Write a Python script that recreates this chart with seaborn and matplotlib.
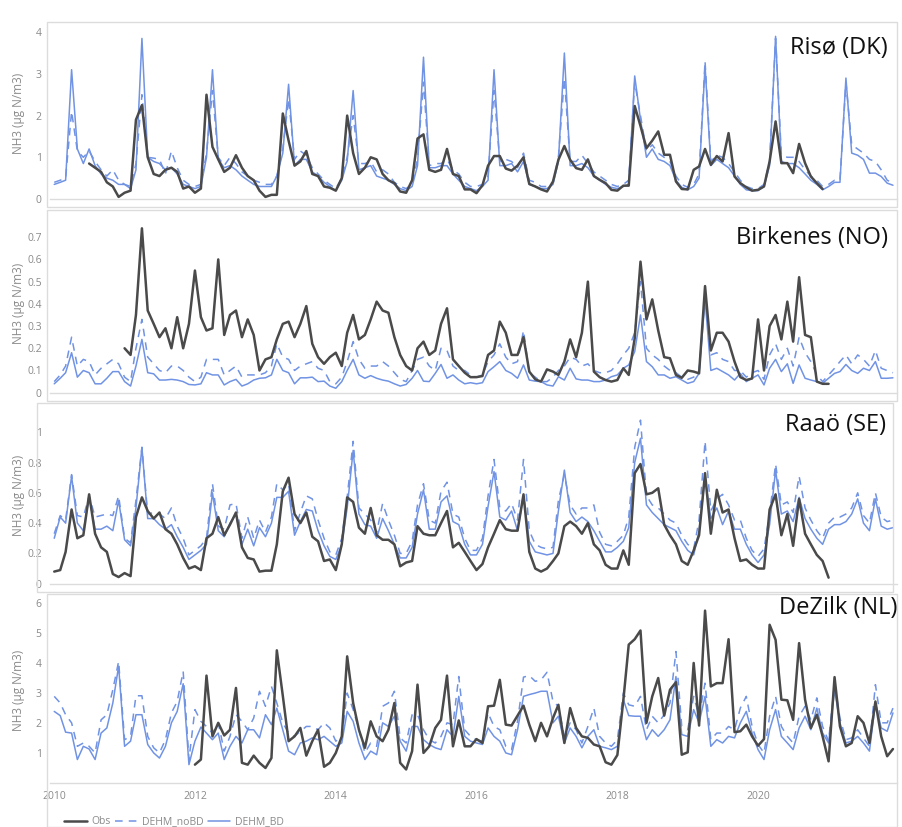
import numpy as np
import pandas as pd
import seaborn as sns
import matplotlib.pyplot as plt
import matplotlib.dates as mdates
from matplotlib.lines import Line2D
from matplotlib.patches import Rectangle

sns.set_theme(style="white")
plt.rcParams['font.family'] = ['Open Sans', 'DejaVu Sans']

nan = np.nan
months = pd.date_range("2010-01-01", periods=144, freq="MS")

# ---------------- Risø (DK) ----------------
riso_obs = [
    nan, nan, nan, nan, nan, nan, 0.85, 0.75, 0.65, 0.4, 0.3, 0.05,
    0.15, 0.2, 1.9, 2.25, 1.0, 0.6, 0.55, 0.7, 0.75, 0.65, 0.25, 0.3,
    0.15, 0.25, 2.5, 1.25, 0.95, 0.65, 0.75, 1.05, 0.75, 0.55, 0.45, 0.2,
    0.05, 0.1, 0.1, 2.05, 1.4, 0.8, 0.9, 1.15, 0.6, 0.55, 0.3, 0.27,
    0.2, 0.5, 2.0, 1.1, 0.6, 0.75, 1.0, 0.95, 0.6, 0.45, 0.38, 0.18,
    0.15, 0.45, 1.45, 1.55, 0.7, 0.65, 0.7, 1.2, 0.6, 0.55, 0.23, 0.23,
    0.14, 0.33, 0.8, 1.03, 1.03, 0.73, 0.68, 0.8, 1.0, 0.36, 0.3, 0.23,
    0.18, 0.42, 0.94, 1.27, 0.94, 0.74, 0.7, 0.95, 0.55, 0.46, 0.38, 0.22,
    0.2, 0.32, 0.32, 2.23, 1.75, 1.22, 1.4, 1.62, 1.06, 1.06, 0.42, 0.24,
    0.23, 0.7, 0.78, 1.2, 0.82, 1.03, 0.9, 1.58, 0.54, 0.38, 0.28, 0.2,
    0.22, 0.3, 0.9, 1.86, 0.86, 0.86, 0.62, 1.32, 0.86, 0.54, 0.38, 0.24,
    nan, nan, nan, nan, nan, nan, nan, nan, nan, nan, nan, nan,
]
riso_nobd = [
    0.4, 0.45, 0.5, 2.1, 1.15, 1.0, 1.15, 0.9, 0.7, 0.55, 0.7, 0.45,
    0.35, 0.3, 0.85, 2.5, 1.0, 0.98, 0.95, 0.6, 1.15, 0.75, 0.45, 0.35,
    0.3, 0.35, 1.1, 2.6, 1.0, 0.8, 1.0, 0.85, 0.65, 0.55, 0.45, 0.4,
    0.35, 0.35, 0.55, 1.2, 2.4, 0.95, 1.15, 1.05, 0.75, 0.6, 0.45, 0.35,
    0.25, 0.5, 1.0, 2.0, 0.85, 0.85, 0.9, 0.65, 0.7, 0.6, 0.4, 0.3,
    0.25, 0.35, 0.95, 2.8, 0.8, 0.85, 0.85, 0.95, 0.7, 0.6, 0.4, 0.3,
    0.3, 0.35, 0.55, 2.6, 0.9, 0.95, 0.9, 0.75, 1.1, 0.45, 0.4, 0.3,
    0.3, 0.4, 1.0, 2.9, 0.9, 0.9, 1.05, 0.85, 0.65, 0.55, 0.45, 0.35,
    0.3, 0.35, 0.45, 2.8, 2.0, 1.15, 1.3, 1.1, 1.0, 0.9, 0.55, 0.35,
    0.28, 0.35, 0.6, 3.3, 0.9, 1.05, 1.0, 0.85, 0.65, 0.45, 0.3, 0.25,
    0.25, 0.35, 0.9, 3.85, 1.05, 1.0, 1.0, 0.9, 0.7, 0.55, 0.45, 0.3,
    0.35, 0.45, 0.45, 2.8, 1.3, 1.2, 1.1, 0.95, 0.9, 0.7, 0.45, 0.38,
]
riso_bd = [
    0.35, 0.4, 0.45, 3.1, 1.2, 0.85, 1.2, 0.8, 0.6, 0.5, 0.45, 0.35,
    0.35, 0.25, 0.7, 3.85, 1.0, 0.9, 0.85, 0.7, 0.75, 0.6, 0.35, 0.3,
    0.25, 0.3, 1.0, 3.1, 0.95, 0.75, 0.8, 0.7, 0.55, 0.45, 0.35, 0.3,
    0.3, 0.3, 0.55, 1.1, 2.75, 0.8, 0.95, 0.95, 0.65, 0.55, 0.4, 0.3,
    0.2, 0.45, 0.9, 2.6, 0.7, 0.75, 0.8, 0.55, 0.5, 0.45, 0.35, 0.25,
    0.2, 0.3, 0.8, 3.4, 0.75, 0.75, 0.8, 0.8, 0.6, 0.45, 0.3, 0.25,
    0.2, 0.3, 0.45, 3.1, 0.8, 0.8, 0.85, 0.65, 0.9, 0.35, 0.3, 0.25,
    0.25, 0.35, 0.9, 3.5, 0.8, 0.8, 0.85, 0.75, 0.55, 0.45, 0.35, 0.28,
    0.25, 0.3, 0.35, 2.95, 1.9, 1.0, 1.2, 0.95, 0.9, 0.8, 0.45, 0.28,
    0.22, 0.3, 0.5, 3.2, 0.8, 0.95, 0.85, 0.75, 0.55, 0.35, 0.22, 0.2,
    0.2, 0.3, 0.8, 3.9, 0.9, 0.85, 0.85, 0.75, 0.6, 0.45, 0.35, 0.22,
    0.3, 0.4, 0.4, 2.9, 1.1, 1.05, 0.95, 0.62, 0.62, 0.54, 0.38, 0.33,
]

# ---------------- Birkenes (NO) ----------------
birk_obs = [
    nan, nan, nan, nan, nan, nan, nan, nan, nan, nan, nan, nan,
    0.2, 0.17, 0.35, 0.74, 0.37, 0.31, 0.25, 0.29, 0.2, 0.34, 0.2, 0.31,
    0.55, 0.34, 0.28, 0.29, 0.6, 0.26, 0.35, 0.37, 0.25, 0.33, 0.26, 0.1,
    0.15, 0.16, 0.24, 0.31, 0.32, 0.25, 0.31, 0.39, 0.22, 0.16, 0.13, 0.16,
    0.18, 0.12, 0.27, 0.35, 0.24, 0.26, 0.33, 0.41, 0.37, 0.36, 0.25, 0.17,
    0.12, 0.1, 0.2, 0.23, 0.17, 0.19, 0.31, 0.38, 0.15, 0.12, 0.09, 0.07,
    0.07, 0.075, 0.17, 0.19, 0.32, 0.27, 0.17, 0.17, 0.25, 0.095, 0.06, 0.05,
    0.105, 0.095, 0.08, 0.14, 0.24, 0.16, 0.27, 0.5, 0.095, 0.07, 0.057, 0.05,
    0.057, 0.11, 0.08, 0.245, 0.59, 0.33, 0.42, 0.28, 0.16, 0.155, 0.08, 0.067,
    0.1, 0.095, 0.087, 0.48, 0.19, 0.27, 0.27, 0.23, 0.14, 0.07, 0.057, 0.064,
    0.33, 0.1, 0.3, 0.35, 0.24, 0.41, 0.23, 0.52, 0.26, 0.25, 0.05, 0.04,
    0.04, nan, nan, nan, nan, nan, nan, nan, nan, nan, nan, nan,
]
birk_nobd = [
    0.05, 0.08, 0.12, 0.25, 0.12, 0.15, 0.14, 0.08, 0.11, 0.13, 0.15, 0.13,
    0.07, 0.05, 0.2, 0.33, 0.16, 0.13, 0.1, 0.09, 0.12, 0.12, 0.1, 0.07,
    0.05, 0.07, 0.15, 0.15, 0.15, 0.08, 0.1, 0.12, 0.07, 0.08, 0.08, 0.08,
    0.09, 0.12, 0.22, 0.16, 0.15, 0.1, 0.12, 0.13, 0.14, 0.11, 0.1, 0.05,
    0.04, 0.07, 0.14, 0.23, 0.15, 0.11, 0.12, 0.12, 0.14, 0.12, 0.09, 0.06,
    0.05, 0.1, 0.15, 0.16, 0.12, 0.1, 0.2, 0.19, 0.12, 0.1, 0.1, 0.08,
    0.07, 0.08, 0.14, 0.17, 0.22, 0.16, 0.13, 0.14, 0.28, 0.09, 0.07, 0.05,
    0.05, 0.07, 0.1, 0.12, 0.16, 0.15, 0.12, 0.13, 0.1, 0.09, 0.09, 0.1,
    0.13, 0.17, 0.2, 0.27, 0.5, 0.2, 0.17, 0.15, 0.12, 0.1, 0.09, 0.07,
    0.06, 0.07, 0.1, 0.44, 0.17, 0.18, 0.15, 0.14, 0.1, 0.1, 0.07, 0.09,
    0.1, 0.06, 0.17, 0.22, 0.15, 0.2, 0.12, 0.25, 0.18, 0.14, 0.08, 0.05,
    0.08, 0.11, 0.14, 0.17, 0.13, 0.17, 0.15, 0.12, 0.19, 0.11, 0.1, 0.09,
]
birk_bd = [
    0.04, 0.065, 0.09, 0.18, 0.07, 0.1, 0.09, 0.04, 0.04, 0.065, 0.095, 0.095,
    0.05, 0.03, 0.12, 0.24, 0.09, 0.085, 0.057, 0.057, 0.06, 0.057, 0.05, 0.037,
    0.035, 0.04, 0.09, 0.08, 0.08, 0.035, 0.05, 0.06, 0.03, 0.04, 0.057, 0.065,
    0.067, 0.08, 0.15, 0.1, 0.09, 0.04, 0.067, 0.067, 0.07, 0.05, 0.052, 0.03,
    0.02, 0.05, 0.1, 0.15, 0.08, 0.065, 0.077, 0.065, 0.057, 0.052, 0.04, 0.03,
    0.037, 0.065, 0.1, 0.052, 0.05, 0.087, 0.127, 0.065, 0.08, 0.057, 0.04, 0.045,
    0.04, 0.045, 0.095, 0.117, 0.14, 0.1, 0.087, 0.065, 0.125, 0.057, 0.052, 0.05,
    0.035, 0.03, 0.072, 0.057, 0.11, 0.062, 0.057, 0.057, 0.05, 0.05, 0.057, 0.072,
    0.08, 0.11, 0.125, 0.185, 0.35, 0.14, 0.117, 0.08, 0.08, 0.065, 0.072, 0.057,
    0.042, 0.05, 0.087, 0.42, 0.1, 0.11, 0.095, 0.08, 0.057, 0.087, 0.05, 0.065,
    0.08, 0.035, 0.11, 0.15, 0.095, 0.13, 0.042, 0.125, 0.065, 0.057, 0.05, 0.042,
    0.065, 0.087, 0.095, 0.127, 0.1, 0.087, 0.11, 0.1, 0.14, 0.065, 0.065, 0.067,
]

# ---------------- Raaö (SE) ----------------
raao_obs = [
    0.08, 0.09, 0.21, 0.49, 0.3, 0.32, 0.59, 0.33, 0.24, 0.21, 0.064, 0.044,
    0.07, 0.05, 0.44, 0.57, 0.48, 0.43, 0.47, 0.36, 0.33, 0.26, 0.17, 0.1,
    0.115, 0.09, 0.3, 0.33, 0.44, 0.32, 0.39, 0.47, 0.24, 0.17, 0.16, 0.08,
    0.086, 0.086, 0.26, 0.61, 0.7, 0.46, 0.4, 0.47, 0.31, 0.28, 0.15, 0.16,
    0.09, 0.26, 0.57, 0.54, 0.37, 0.33, 0.5, 0.32, 0.29, 0.29, 0.26, 0.115,
    0.14, 0.15, 0.38, 0.33, 0.32, 0.32, 0.4, 0.48, 0.24, 0.27, 0.21, 0.15,
    0.09, 0.13, 0.24, 0.33, 0.42, 0.36, 0.35, 0.35, 0.59, 0.21, 0.1, 0.08,
    0.1, 0.15, 0.2, 0.38, 0.41, 0.38, 0.33, 0.4, 0.26, 0.22, 0.125, 0.1,
    0.1, 0.22, 0.125, 0.73, 0.79, 0.59, 0.6, 0.63, 0.39, 0.32, 0.26, 0.15,
    0.125, 0.22, 0.32, 0.73, 0.33, 0.62, 0.47, 0.49, 0.3, 0.15, 0.16, 0.125,
    0.1, 0.1, 0.49, 0.59, 0.32, 0.46, 0.25, 0.56, 0.33, 0.26, 0.19, 0.15,
    0.04, nan, nan, nan, nan, nan, nan, nan, nan, nan, nan, nan,
]
raao_nobd = [
    0.33, 0.45, 0.42, 0.72, 0.45, 0.44, 0.58, 0.44, 0.45, 0.46, 0.45, 0.58,
    0.3, 0.27, 0.55, 0.9, 0.46, 0.47, 0.46, 0.43, 0.5, 0.38, 0.3, 0.19,
    0.22, 0.25, 0.3, 0.66, 0.38, 0.36, 0.52, 0.53, 0.3, 0.44, 0.3, 0.42,
    0.34, 0.44, 0.66, 0.62, 0.66, 0.35, 0.47, 0.58, 0.56, 0.42, 0.3, 0.21,
    0.19, 0.3, 0.57, 0.94, 0.5, 0.46, 0.42, 0.34, 0.53, 0.42, 0.32, 0.2,
    0.2, 0.28, 0.52, 0.66, 0.42, 0.4, 0.61, 0.67, 0.46, 0.44, 0.3, 0.22,
    0.22, 0.3, 0.58, 0.82, 0.5, 0.48, 0.53, 0.42, 0.82, 0.35, 0.26, 0.24,
    0.23, 0.24, 0.55, 0.72, 0.52, 0.46, 0.5, 0.5, 0.52, 0.34, 0.26, 0.25,
    0.28, 0.32, 0.44, 0.9, 1.08, 0.58, 0.52, 0.5, 0.46, 0.42, 0.4, 0.32,
    0.26, 0.23, 0.42, 0.94, 0.48, 0.56, 0.59, 0.52, 0.42, 0.42, 0.3, 0.22,
    0.18, 0.23, 0.46, 0.79, 0.52, 0.54, 0.47, 0.71, 0.5, 0.42, 0.35, 0.3,
    0.4, 0.44, 0.44, 0.46, 0.5, 0.6, 0.45, 0.4, 0.6, 0.44, 0.41, 0.42,
]
raao_bd = [
    0.3, 0.44, 0.4, 0.71, 0.4, 0.35, 0.57, 0.36, 0.36, 0.38, 0.35, 0.55,
    0.29, 0.25, 0.5, 0.9, 0.43, 0.43, 0.39, 0.36, 0.39, 0.31, 0.24, 0.16,
    0.19, 0.22, 0.26, 0.6, 0.35, 0.31, 0.4, 0.46, 0.26, 0.36, 0.25, 0.37,
    0.31, 0.4, 0.57, 0.57, 0.61, 0.32, 0.41, 0.49, 0.48, 0.35, 0.25, 0.18,
    0.16, 0.26, 0.5, 0.88, 0.46, 0.39, 0.38, 0.3, 0.43, 0.35, 0.26, 0.17,
    0.17, 0.24, 0.46, 0.62, 0.36, 0.36, 0.54, 0.58, 0.41, 0.39, 0.26, 0.19,
    0.19, 0.26, 0.51, 0.74, 0.44, 0.42, 0.48, 0.35, 0.58, 0.28, 0.21, 0.2,
    0.19, 0.2, 0.48, 0.75, 0.47, 0.41, 0.44, 0.41, 0.35, 0.28, 0.21, 0.21,
    0.24, 0.28, 0.37, 0.8, 0.96, 0.52, 0.47, 0.43, 0.39, 0.37, 0.35, 0.28,
    0.22, 0.19, 0.35, 0.7, 0.43, 0.5, 0.39, 0.48, 0.36, 0.36, 0.26, 0.19,
    0.14, 0.19, 0.39, 0.75, 0.46, 0.48, 0.41, 0.57, 0.43, 0.36, 0.3, 0.26,
    0.36, 0.39, 0.39, 0.41, 0.46, 0.56, 0.4, 0.35, 0.56, 0.38, 0.36, 0.37,
]

# ---------------- DeZilk (NL) ----------------
dez_obs = [
    nan, nan, nan, nan, nan, nan, nan, nan, nan, nan, nan, nan,
    nan, nan, nan, nan, nan, nan, nan, nan, nan, nan, nan, nan,
    0.61, 0.78, 3.57, 1.55, 2.0, 1.58, 1.77, 3.16, 0.67, 0.61, 0.91, 0.67,
    0.5, 0.83, 4.41, 2.9, 1.39, 1.55, 1.83, 0.91, 1.39, 1.77, 0.54, 0.67,
    1.0, 1.55, 4.21, 2.66, 1.77, 1.17, 2.05, 1.55, 1.39, 1.77, 2.66, 0.67,
    0.45, 1.06, 3.27, 1.0, 1.22, 1.83, 2.1, 3.57, 1.22, 2.08, 1.22, 1.22,
    1.46, 1.33, 2.55, 2.57, 3.43, 1.94, 1.91, 2.24, 2.57, 1.94, 1.39, 2.0,
    1.55, 2.16, 2.6, 1.33, 2.49, 1.83, 1.55, 1.5, 1.28, 1.22, 0.69, 0.61,
    0.93, 2.75, 4.6, 4.78, 5.07, 2.0, 2.88, 3.49, 2.24, 3.1, 3.35, 0.94,
    1.02, 3.99, 1.91, 5.73, 3.21, 3.32, 3.32, 4.78, 1.69, 1.72, 1.94, 1.55,
    1.24, 1.46, 5.26, 4.76, 2.77, 2.75, 2.1, 4.65, 2.77, 1.83, 2.27, 1.55,
    0.72, 3.52, 1.88, 1.22, 1.33, 2.22, 2.0, 1.33, 2.71, 1.55, 0.89, 1.13,
]
dez_nobd = [
    2.88, 2.66, 2.27, 2.0, 1.22, 1.33, 1.22, 1.0, 2.1, 2.27, 3.1, 4.04,
    1.44, 1.55, 2.9, 2.9, 1.55, 1.17, 1.0, 1.44, 2.33, 2.71, 3.71, 0.78,
    2.44, 2.05, 1.88, 1.66, 2.0, 1.06, 1.55, 2.27, 2.05, 1.77, 2.16, 3.05,
    2.55, 3.21, 2.66, 2.0, 1.66, 1.55, 1.72, 1.88, 1.88, 1.77, 2.0, 1.83,
    1.39, 1.55, 2.99, 2.44, 1.77, 1.0, 1.33, 1.22, 2.55, 2.66, 3.05, 1.5,
    1.33, 2.27, 2.27, 1.77, 1.44, 1.33, 1.55, 2.0, 1.94, 3.54, 1.77, 1.55,
    1.44, 1.39, 2.33, 1.88, 1.77, 1.22, 1.11, 2.05, 3.52, 3.57, 3.38, 3.43,
    3.68, 2.71, 2.55, 1.55, 2.0, 1.77, 1.33, 1.88, 2.49, 1.55, 1.33, 1.22,
    1.44, 2.99, 2.6, 2.55, 2.88, 1.77, 2.22, 2.0, 2.27, 2.66, 4.37, 1.88,
    1.77, 2.88, 2.22, 3.32, 1.44, 1.66, 1.66, 1.88, 1.77, 2.49, 2.88, 1.88,
    1.28, 1.0, 2.22, 2.88, 1.88, 1.55, 1.33, 2.22, 2.55, 2.1, 2.83, 1.88,
    1.39, 3.32, 2.16, 1.44, 1.5, 1.77, 1.5, 1.22, 3.27, 2.0, 2.0, 2.49,
]
dez_bd = [
    2.38, 2.24, 1.69, 1.66, 0.78, 1.22, 1.13, 0.78, 1.66, 1.83, 2.66, 3.88,
    1.22, 1.39, 2.27, 2.27, 1.28, 1.0, 0.83, 1.22, 2.0, 2.38, 3.3, 0.61,
    1.39, 1.86, 1.66, 1.44, 1.66, 0.78, 1.22, 1.55, 1.33, 1.77, 1.77, 1.5,
    2.27, 1.94, 2.49, 1.77, 1.06, 0.94, 1.33, 1.39, 1.5, 1.44, 1.55, 1.39,
    1.22, 1.33, 2.38, 2.05, 1.33, 0.78, 1.06, 0.94, 2.0, 1.88, 2.22, 1.39,
    1.06, 1.88, 1.88, 1.44, 1.28, 1.17, 1.11, 1.77, 1.55, 2.88, 1.55, 1.39,
    1.33, 1.28, 1.83, 1.55, 1.39, 1.0, 0.94, 1.77, 2.88, 2.94, 2.99, 3.05,
    3.05, 2.0, 2.22, 1.33, 1.83, 1.55, 1.17, 1.55, 1.77, 1.22, 1.17, 1.11,
    1.22, 2.77, 2.24, 2.22, 2.22, 1.44, 1.77, 1.55, 1.77, 2.1, 3.54, 1.61,
    1.55, 2.44, 2.0, 2.88, 1.22, 1.44, 1.33, 1.55, 1.5, 2.0, 2.38, 1.66,
    1.11, 0.78, 1.77, 2.44, 1.55, 1.33, 1.11, 1.83, 2.22, 1.77, 2.49, 1.66,
    1.33, 3.1, 2.0, 1.33, 1.39, 1.55, 1.33, 1.06, 2.66, 1.83, 1.72, 2.33,
]

stations = ["Risø (DK)", "Birkenes (NO)", "Raaö (SE)", "DeZilk (NL)"]
obs_data = [riso_obs, birk_obs, raao_obs, dez_obs]
nobd_data = [riso_nobd, birk_nobd, raao_nobd, dez_nobd]
bd_data = [riso_bd, birk_bd, raao_bd, dez_bd]
y_tops = [4.1, 0.8, 1.16, 6.15]
y_ticks = [[0, 1, 2, 3, 4],
           [0, 0.1, 0.2, 0.3, 0.4, 0.5, 0.6, 0.7],
           [0, 0.2, 0.4, 0.6, 0.8, 1.0],
           [1, 2, 3, 4, 5, 6]]

W, H = 902, 827
obs_c = "#4a4a4a"
mod_c = "#7193e4"
grey = "#8a8a8a"

# pixel boxes: (axes top, axes bottom, border left, border top, border right, border bottom, title y)
boxes = [
    (28, 199, 47, 22, 897, 207, 48),
    (215, 392.7, 47, 210, 897, 401, 238),
    (408, 583.7, 37, 403, 893, 592, 425),
    (598, 783, 47, 594, 897, 827, 608),
]
title_x = [888, 888, 886, 897]

fig = plt.figure(figsize=(W / 100, H / 100), dpi=100)

for i in range(4):
    top, bot, bl, bt, br, bb, ty = boxes[i]
    fig.add_artist(Rectangle((bl / W, 1 - bb / H), (br - bl) / W, (bb - bt) / H,
                             transform=fig.transFigure, fill=False,
                             ec="#dcdcdc", lw=1))
    ax = fig.add_axes([50 / W, 1 - bot / H, 847 / W, (bot - top) / H])
    df = pd.DataFrame({"month": months, "Obs": obs_data[i],
                       "DEHM_noBD": nobd_data[i], "DEHM_BD": bd_data[i]})
    sns.lineplot(data=df, x="month", y="DEHM_BD", ax=ax, color=mod_c, lw=1.1)
    sns.lineplot(data=df, x="month", y="DEHM_noBD", ax=ax, color=mod_c, lw=1.1,
                 linestyle=(0, (5, 4)))
    sns.lineplot(data=df, x="month", y="Obs", ax=ax, color=obs_c, lw=1.8)

    ax.set_xlim(pd.Timestamp("2009-12-10"), pd.Timestamp("2021-12-22"))
    ax.set_ylim(0, y_tops[i])
    ax.set_yticks(y_ticks[i])
    ax.set_yticklabels(["%g" % t for t in y_ticks[i]])
    ax.xaxis.set_major_locator(mdates.YearLocator(2))
    ax.xaxis.set_major_formatter(mdates.DateFormatter("%Y"))
    ax.tick_params(length=0, colors=grey, labelsize=7.5, pad=6)
    if i < 3:
        ax.tick_params(labelbottom=False)
    for s in ["top", "left", "right"]:
        ax.spines[s].set_visible(False)
    ax.spines["bottom"].set_color("#dcdcdc")
    ax.spines["bottom"].set_linewidth(1)
    ax.set_xlabel("")
    ax.set_ylabel("NH3 (µg N/m3)", color=grey, fontsize=8.5)
    ax.yaxis.set_label_coords(-0.03, 0.5)
    ax.grid(False)
    fig.text(title_x[i] / W, 1 - ty / H, stations[i], ha="right", va="center",
             fontsize=17, color="#111111")

handles = [Line2D([], [], color=obs_c, lw=1.8),
           Line2D([], [], color=mod_c, lw=1.1, linestyle=(0, (5, 4))),
           Line2D([], [], color=mod_c, lw=1.1)]
leg = fig.legend(handles, ["Obs", "DEHM_noBD", "DEHM_BD"], loc="center left",
                 bbox_to_anchor=(64 / W, 1 - 822 / H), ncol=3, frameon=False,
                 fontsize=7.5, handlelength=2.2, columnspacing=0.4,
                 handletextpad=0.4, borderaxespad=0, borderpad=0)
for t in leg.get_texts():
    t.set_color(grey)

fig.savefig("out.png", dpi=100)
